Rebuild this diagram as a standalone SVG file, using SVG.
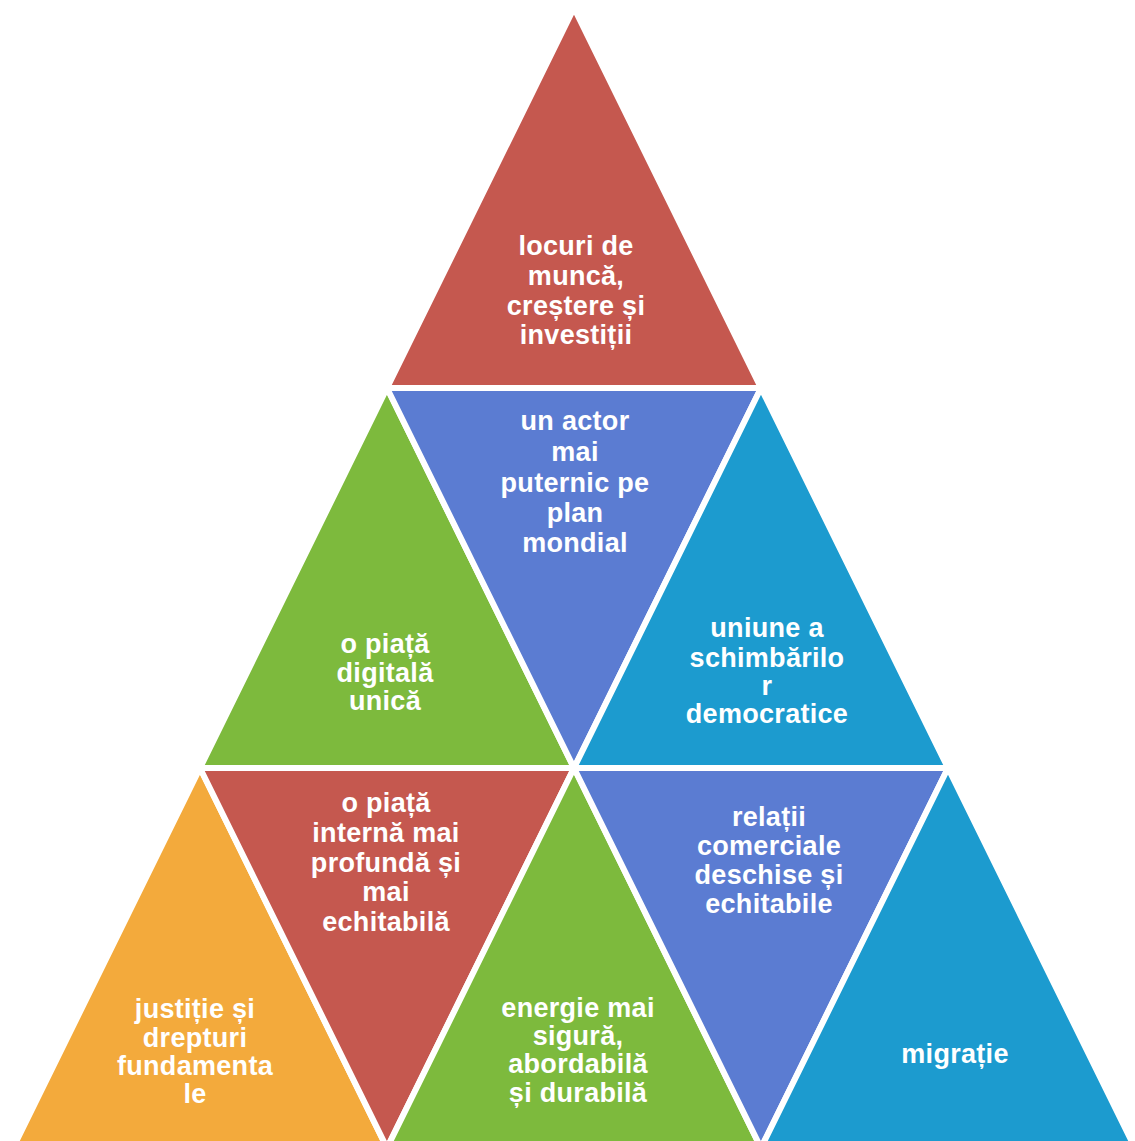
<svg xmlns="http://www.w3.org/2000/svg" width="1135" height="1141" viewBox="0 0 1135 1141">
<style>
.t{stroke:#fff;stroke-width:6;stroke-linejoin:round}
.red{fill:#C5584F}.blue{fill:#5B7CD2}.green{fill:#7DBA3D}.cyan{fill:#1C9BCF}.orange{fill:#F3AA3C}
text{font-family:"Liberation Sans",Arial,sans-serif;font-weight:bold;font-size:27px;letter-spacing:0.3px;fill:#fff;text-anchor:middle}
</style>
<rect width="1135" height="1141" fill="#fff"/>
<g id="n1"><polygon class="t red" points="574,8 761,388 387,388"/>
<text x="576" y="255">locuri de</text><text x="576" y="285">muncă,</text><text x="576" y="315">creștere și</text><text x="576" y="344">investiții</text></g>
<g id="n2"><polygon class="t green" points="387,388 574,768 200,768"/>
<text x="385" y="653">o piață</text><text x="385" y="682">digitală</text><text x="385" y="710">unică</text></g>
<g id="n3"><polygon class="t blue" points="387,388 761,388 574,768"/>
<text x="575" y="430">un actor</text><text x="575" y="461">mai</text><text x="575" y="492">puternic pe</text><text x="575" y="522">plan</text><text x="575" y="552">mondial</text></g>
<g id="n4"><polygon class="t cyan" points="761,388 948,768 574,768"/>
<text x="767" y="637">uniune a</text><text x="767" y="667">schimbărilo</text><text x="767" y="695">r</text><text x="767" y="723">democratice</text></g>
<g id="n5"><polygon class="t orange" points="200,768 387,1148 13,1148"/>
<text x="195" y="1018">justiție și</text><text x="195" y="1047">drepturi</text><text x="195" y="1075">fundamenta</text><text x="195" y="1103">le</text></g>
<g id="n6"><polygon class="t red" points="200,768 574,768 387,1148"/>
<text x="386" y="812">o piață</text><text x="386" y="842">internă mai</text><text x="386" y="872">profundă și</text><text x="386" y="901">mai</text><text x="386" y="931">echitabilă</text></g>
<g id="n7"><polygon class="t green" points="574,768 761,1148 387,1148"/>
<text x="578" y="1017">energie mai</text><text x="578" y="1045">sigură,</text><text x="578" y="1073">abordabilă</text><text x="578" y="1102">și durabilă</text></g>
<g id="n8"><polygon class="t blue" points="574,768 948,768 761,1148"/>
<text x="769" y="826">relații</text><text x="769" y="855">comerciale</text><text x="769" y="884">deschise și</text><text x="769" y="913">echitabile</text></g>
<g id="n9"><polygon class="t cyan" points="948,768 1135,1148 761,1148"/>
<text x="955" y="1063">migrație</text></g>
<g id="connectors"/>
</svg>
